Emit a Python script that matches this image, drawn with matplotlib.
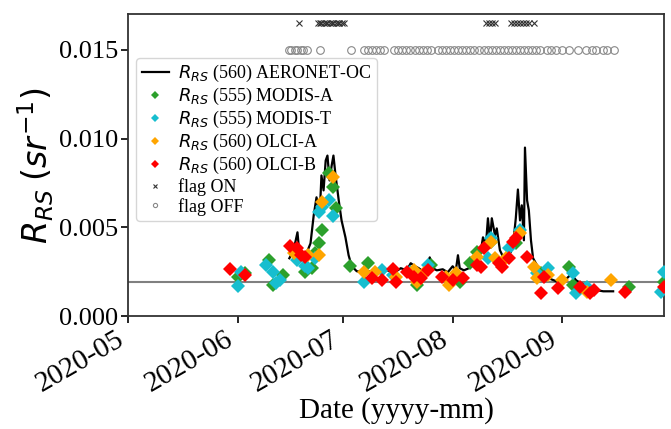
import numpy as np
import pandas as pd
import matplotlib
matplotlib.use("Agg")
import matplotlib.pyplot as plt
import matplotlib.dates as mdates

# AERONET-OC time series (days since 2020-05-01, Rrs 560)
aeronet_day = [45.7, 46.9, 48.0, 48.6, 49.7, 50.9, 51.7, 52.6, 53.4, 54.3, 54.8, 55.4, 56.0, 56.5,
               57.1, 57.7, 58.2, 58.8, 59.7, 60.5, 61.6, 62.5, 63.4, 64.8, 66.5, 68.8, 71.0, 73.3,
               75.6, 77.3, 79.0, 80.1, 81.3, 82.4, 83.5, 84.7, 85.5, 86.4, 87.5, 89.2, 90.6, 92.0,
               92.9, 93.5, 94.0, 95.2, 96.6, 97.7, 98.9, 100.0, 100.6, 101.4, 102.0, 102.6, 103.1,
               104.0, 104.5, 105.4, 106.5, 107.7, 108.5, 109.4, 109.9, 110.5, 111.1, 111.6, 112.2,
               112.5, 113.1, 113.6, 114.2, 114.8, 115.9, 117.0, 118.5, 119.9, 121.3, 122.7, 124.1,
               125.6, 127.0, 128.4, 131.3, 133.0, 134.7, 137.5]
aeronet_rrs = [0.00326, 0.00371, 0.00472, 0.00343, 0.00326, 0.00371, 0.00410, 0.00567, 0.00669,
               0.00567, 0.00792, 0.00708, 0.00876, 0.00904, 0.00764, 0.00848, 0.00904, 0.00792,
               0.00652, 0.00539, 0.00444, 0.00343, 0.00281, 0.00253, 0.00247, 0.00253, 0.00247,
               0.00258, 0.00247, 0.00270, 0.00258, 0.00298, 0.00281, 0.00270, 0.00253, 0.00281,
               0.00331, 0.00270, 0.00258, 0.00264, 0.00247, 0.00281, 0.00258, 0.00343, 0.00270,
               0.00258, 0.00270, 0.00298, 0.00326, 0.00371, 0.00444, 0.00393, 0.00551, 0.00427,
               0.00551, 0.00455, 0.00494, 0.00371, 0.00326, 0.00354, 0.00360, 0.00455, 0.00551,
               0.00713, 0.00539, 0.00624, 0.00427, 0.00949, 0.00652, 0.00595, 0.00427, 0.00326,
               0.00287, 0.00247, 0.00225, 0.00208, 0.00197, 0.00185, 0.00208, 0.00236, 0.00202,
               0.00185, 0.00163, 0.00146, 0.00140, 0.00140]

modis_a_date = ["06-01", "06-03", "06-10", "06-11", "06-14", "06-20", "06-22", "06-23", "06-24",
                "06-25", "06-27", "06-28", "06-29", "07-03", "07-08", "07-22", "07-26", "08-03",
                "08-06", "08-08", "08-12", "08-19", "08-26", "09-03", "09-04", "09-20", "09-30"]
modis_a_rrs = [0.00219, 0.00242, 0.00315, 0.00174, 0.00230, 0.00247, 0.00270, 0.00354, 0.00410,
               0.00483, 0.00806, 0.00725, 0.00607, 0.00281, 0.00298, 0.00174, 0.00287, 0.00191,
               0.00298, 0.00360, 0.00416, 0.00410, 0.00242, 0.00275, 0.00174, 0.00163, 0.00191]

modis_t_date = ["06-01", "06-02", "06-09", "06-11", "06-12", "06-13", "06-18", "06-20", "06-21",
                "06-23", "06-24", "06-25", "06-27", "06-28", "07-07", "07-12", "07-15", "07-20",
                "07-25", "08-11", "08-12", "08-17", "08-20", "08-25", "08-28", "09-04", "09-05",
                "09-08", "09-29", "09-30"]
modis_t_rrs = [0.00169, 0.00247, 0.00287, 0.00247, 0.00185, 0.00202, 0.00315, 0.00281, 0.00270,
               0.00326, 0.00584, 0.00613, 0.00652, 0.00562, 0.00191, 0.00258, 0.00230, 0.00247,
               0.00287, 0.00326, 0.00438, 0.00382, 0.00483, 0.00242, 0.00270, 0.00242, 0.00129,
               0.00163, 0.00135, 0.00247]

olci_a_date = ["06-17", "06-21", "06-24", "06-25", "06-28", "07-07", "07-10", "07-16", "07-21",
               "07-22", "07-24", "07-30", "07-31", "08-02", "08-08", "08-12", "08-13", "08-16",
               "08-20", "08-24", "08-25", "08-28", "09-01", "09-08", "09-15"]
olci_a_rrs = [0.00354, 0.00343, 0.00343, 0.00641, 0.00781, 0.00247, 0.00247, 0.00219, 0.00258,
              0.00191, 0.00242, 0.00219, 0.00174, 0.00242, 0.00331, 0.00416, 0.00326, 0.00326,
              0.00466, 0.00275, 0.00213, 0.00230, 0.00202, 0.00135, 0.00202]

olci_b_date = ["05-30", "06-03", "06-16", "06-18", "06-19", "06-20", "07-09", "07-12", "07-15",
               "07-16", "07-19", "07-21", "07-23", "07-25", "07-29", "08-01", "08-04", "08-08",
               "08-09", "08-10", "08-14", "08-15", "08-17", "08-18", "08-19", "08-22", "08-26",
               "08-27", "08-31", "09-06", "09-09", "09-10", "09-19", "09-30"]
olci_b_rrs = [0.00264, 0.00230, 0.00393, 0.00382, 0.00343, 0.00331, 0.00213, 0.00202, 0.00264,
              0.00191, 0.00247, 0.00219, 0.00213, 0.00258, 0.00219, 0.00202, 0.00213, 0.00287,
              0.00275, 0.00382, 0.00298, 0.00275, 0.00326, 0.00416, 0.00438, 0.00331, 0.00129,
              0.00219, 0.00157, 0.00163, 0.00129, 0.00146, 0.00135, 0.00163]

# flag rows (days since 2020-05-01)
flag_on_day = [48.3, 53.7, 54.3, 54.8, 55.4, 56.0, 56.5, 57.1, 57.7, 58.2, 58.8, 59.4, 59.9,
               60.5, 61.1, 101.4, 102.3, 103.1, 104.0, 108.5, 109.4, 110.2, 111.1, 111.9,
               112.8, 113.6, 115.1]
flag_off_day = [45.5, 46.3, 47.2, 48.0, 48.9, 49.7, 50.6, 54.5, 63.1, 66.8, 67.9, 69.0, 70.2,
                71.3, 72.4, 75.3, 76.4, 77.6, 78.7, 79.8, 81.3, 82.4, 83.5, 84.7, 85.8, 87.8,
                88.9, 90.1, 91.2, 92.3, 93.5, 94.6, 95.7, 96.9, 98.0, 99.4, 100.9, 102.0, 103.1,
                104.3, 105.4, 106.5, 107.7, 108.8, 109.9, 111.1, 112.2, 113.4, 114.5, 115.6,
                116.8, 118.8, 119.9, 121.3, 123.0, 125.0, 127.6, 129.8, 131.5, 132.7, 134.7,
                135.8, 137.8]
flag_on_level = 0.0165
flag_off_level = 0.015
threshold = 0.0019

t0 = pd.Timestamp("2020-05-01")


def days(d):
    return t0 + pd.to_timedelta(np.array(d), unit="D")


def dates(md):
    return pd.to_datetime(["2020-" + s for s in md])


plt.rcParams["font.family"] = ["Liberation Serif", "DejaVu Serif"]
plt.rcParams["mathtext.fontset"] = "dejavusans"

fig = plt.figure(figsize=(6.71, 4.29), dpi=100)
ax = fig.add_axes([0.191, 0.263, 0.799, 0.704])

ax.plot(days(aeronet_day), aeronet_rrs, color="black", lw=1.6,
        label="$R_{RS}$ (560) AERONET-OC", zorder=2)
ms = 7.5
ax.plot(dates(modis_a_date), modis_a_rrs, "D", color="#2ca02c", ms=ms, mew=0,
        label="$R_{RS}$ (555) MODIS-A", zorder=3)
ax.plot(dates(modis_t_date), modis_t_rrs, "D", color="#17becf", ms=ms, mew=0,
        label="$R_{RS}$ (555) MODIS-T", zorder=3)
ax.plot(dates(olci_a_date), olci_a_rrs, "D", color="orange", ms=ms, mew=0,
        label="$R_{RS}$ (560) OLCI-A", zorder=3)
ax.plot(dates(olci_b_date), olci_b_rrs, "D", color="red", ms=ms, mew=0,
        label="$R_{RS}$ (560) OLCI-B", zorder=3)
ax.plot(days(flag_on_day), [flag_on_level] * len(flag_on_day), "x", color="#333333",
        ms=5, mew=0.8, label="flag ON")
ax.plot(days(flag_off_day), [flag_off_level] * len(flag_off_day), "o", mfc="none",
        mec="#888888", ms=5.5, mew=0.8, label="flag OFF")
ax.axhline(threshold, color="gray", lw=1.5, zorder=1)

ax.set_xlim(pd.Timestamp("2020-05-01"), pd.Timestamp("2020-09-30"))
ax.set_ylim(0, 0.017)
ax.set_yticks([0, 0.005, 0.010, 0.015])
ax.yaxis.set_major_formatter(matplotlib.ticker.FormatStrFormatter("%.3f"))
ax.xaxis.set_major_locator(mdates.MonthLocator())
ax.xaxis.set_major_formatter(mdates.DateFormatter("%Y-%m"))
ax.tick_params(width=1.2, length=5, pad=2)
ax.tick_params(axis="x", labelsize=21)
ax.tick_params(axis="y", labelsize=19)
for lbl in ax.get_xticklabels():
    lbl.set_rotation(30)
    lbl.set_ha("right")
for sp in ax.spines.values():
    sp.set_linewidth(1.3)
    sp.set_color("#333333")

ax.set_xlabel("Date (yyyy-mm)", fontsize=21, labelpad=0)
ax.set_ylabel("$R_{RS}$ $(sr^{-1})$", fontsize=24, labelpad=2)

leg = ax.legend(loc="upper left", bbox_to_anchor=(0.015, 0.855), borderaxespad=0,
                fontsize=13, handlelength=1.5, labelspacing=0.1, markerscale=0.55,
                borderpad=0.3, handletextpad=0.5, framealpha=0.8)
leg.set_zorder(1.5)

fig.savefig("out.png", dpi=100)
